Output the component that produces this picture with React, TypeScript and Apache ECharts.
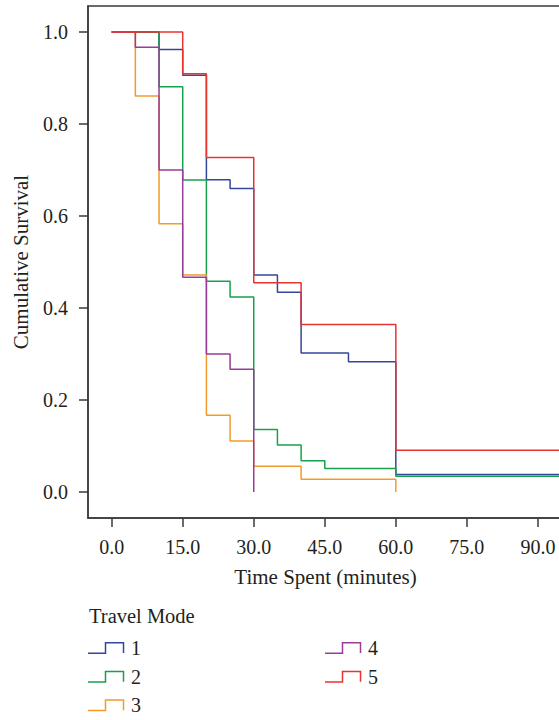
import React, { useEffect, useRef } from "react";
import * as echarts from "echarts";

// ---- Data (Kaplan–Meier steps) ----
const modeNames = ["1", "2", "3", "4", "5"];
const modeColors = ["#33479b", "#18a04c", "#f39a2b", "#983c97", "#e9332f"];

const mode1Times = [0, 10, 15, 20, 25, 30, 35, 40, 50, 60, 95.3];
const mode1Surv = [1.0, 0.962, 0.906, 0.679, 0.66, 0.472, 0.434, 0.302, 0.283, 0.038, 0.038];

const mode2Times = [0, 10, 15, 20, 25, 30, 35, 40, 45, 60, 95.3];
const mode2Surv = [1.0, 0.881, 0.678, 0.458, 0.424, 0.136, 0.102, 0.068, 0.051, 0.034, 0.034];

const mode3Times = [0, 5, 10, 15, 20, 25, 30, 40, 60];
const mode3Surv = [1.0, 0.861, 0.583, 0.472, 0.167, 0.111, 0.056, 0.028, 0.0];

const mode4Times = [0, 5, 10, 15, 20, 25, 30];
const mode4Surv = [1.0, 0.967, 0.7, 0.467, 0.3, 0.267, 0.0];

const mode5Times = [0, 15, 20, 30, 40, 60, 95.3];
const mode5Surv = [1.0, 0.909, 0.727, 0.455, 0.364, 0.091, 0.091];

const xTickValues = [0, 15, 30, 45, 60, 75, 90];
const yTickValues = [0, 0.2, 0.4, 0.6, 0.8, 1.0];

const xAxisTitle = "Time Spent (minutes)";
const yAxisTitle = "Cumulative Survival";
const legendTitle = "Travel Mode";

const allTimes = [mode1Times, mode2Times, mode3Times, mode4Times, mode5Times];
const allSurv = [mode1Surv, mode2Surv, mode3Surv, mode4Surv, mode5Surv];

const FONT = "'Liberation Serif', 'Times New Roman', serif";
const TEXT = "#231f20";

export default function App() {
  const ref = useRef<HTMLDivElement>(null);

  useEffect(() => {
    if (!ref.current) return;
    const chart = echarts.init(ref.current, undefined, { renderer: "svg" });

    const series = modeNames.map((name, i) => ({
      name,
      type: "line",
      step: "end",
      showSymbol: false,
      symbol: "none",
      data: allTimes[i].map((t, j) => [t, allSurv[i][j]]),
      lineStyle: { color: modeColors[i], width: 1.5 },
      itemStyle: { color: modeColors[i] },
      z: 2 + i,
    }));

    // Legend drawn as graphic (two columns, column-major)
    const legendGraphics: any[] = [
      {
        type: "text",
        left: 89,
        top: 605,
        style: { text: legendTitle, font: `20.5px ${FONT}`, fill: TEXT },
      },
    ];
    const colX = [88, 325];
    const rowY = [648, 676.7, 705.3];
    modeNames.forEach((name, i) => {
      const col = i < 3 ? 0 : 1;
      const row = i < 3 ? i : i - 3;
      const x0 = colX[col];
      const y = rowY[row];
      legendGraphics.push({
        type: "polyline",
        shape: {
          points: [
            [x0, y + 5.3],
            [x0 + 17.5, y + 5.3],
            [x0 + 17.5, y - 5.3],
            [x0 + 35.5, y - 5.3],
            [x0 + 35.5, y + 5],
          ],
        },
        style: { stroke: modeColors[i], lineWidth: 1.5, fill: "none" },
      });
      legendGraphics.push({
        type: "text",
        x: x0 + 43,
        y: y,
        style: {
          text: name,
          font: `20px ${FONT}`,
          fill: TEXT,
          verticalAlign: "middle",
          align: "left",
        },
      });
    });

    chart.setOption({
      animation: false,
      backgroundColor: "#ffffff",
      grid: {
        left: 88,
        top: 6,
        right: -4,
        bottom: 202,
        containLabel: false,
        outerBoundsMode: "none",
        show: true,
        borderColor: "#3a3a3a",
        borderWidth: 1.5,
        backgroundColor: "transparent",
      },
      xAxis: {
        type: "value",
        min: -5,
        max: 95.3,
        name: xAxisTitle,
        nameLocation: "middle",
        nameGap: 48,
        nameTextStyle: { fontFamily: FONT, fontSize: 21, color: TEXT },
        axisLine: { show: true, onZero: false, lineStyle: { color: "#3a3a3a", width: 1.5 } },
        axisTick: {
          show: true,
          length: 9,
          customValues: xTickValues,
          lineStyle: { color: "#3a3a3a", width: 1.5 },
        },
        axisLabel: {
          show: true,
          customValues: xTickValues,
          formatter: (v: number) => v.toFixed(1),
          margin: 19,
          fontFamily: FONT,
          fontSize: 20,
          color: TEXT,
          showMinLabel: true,
          showMaxLabel: true,
        },
        splitLine: { show: false },
      },
      yAxis: {
        type: "value",
        min: -0.0565,
        max: 1.0565,
        name: yAxisTitle,
        nameLocation: "middle",
        nameGap: 57,
        nameRotate: 90,
        nameTextStyle: { fontFamily: FONT, fontSize: 21, color: TEXT },
        axisLine: { show: true, onZero: false, lineStyle: { color: "#3a3a3a", width: 1.5 } },
        axisTick: {
          show: true,
          length: 9,
          customValues: yTickValues,
          lineStyle: { color: "#3a3a3a", width: 1.5 },
        },
        axisLabel: {
          show: true,
          customValues: yTickValues,
          formatter: (v: number) => v.toFixed(1),
          margin: 20,
          fontFamily: FONT,
          fontSize: 20,
          color: TEXT,
        },
        splitLine: { show: false },
      },
      series,
      graphic: legendGraphics,
    });

    return () => {
      chart.dispose();
    };
  }, []);

  return (
    <div
      ref={ref}
      style={{ position: "absolute", left: 0, top: 0, width: 559, height: 720, background: "#fff" }}
    />
  );
}
